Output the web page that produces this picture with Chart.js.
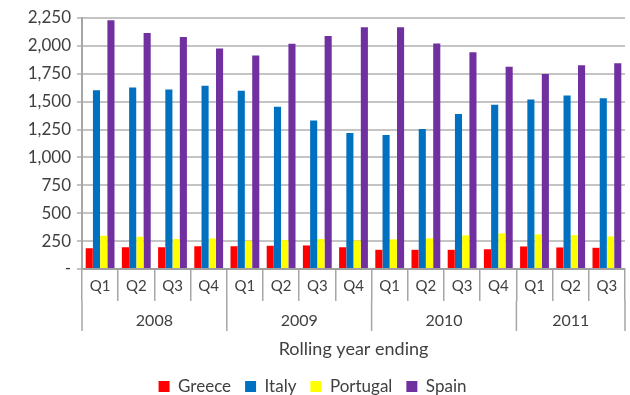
<!DOCTYPE html>
<html>
<head>
<meta charset="utf-8">
<script src="https://cdn.jsdelivr.net/npm/chart.js@4/dist/chart.umd.min.js"></script>
<style>
  html, body { margin: 0; padding: 0; background: #fff; }
  #wrap { width: 630px; height: 395px; }
</style>
</head>
<body>
<div id="wrap"><canvas id="chart" width="630" height="395"></canvas></div>
<script>
// quarters, grouped by year
const quarters = ['Q1', 'Q2', 'Q3', 'Q4', 'Q1', 'Q2', 'Q3', 'Q4', 'Q1', 'Q2', 'Q3', 'Q4', 'Q1', 'Q2', 'Q3'];
const years = ['2008', '2009', '2010', '2011'];
const quartersPerYear = [4, 4, 4, 3];

const greece   = [186, 195, 195, 204, 204, 208, 211, 195, 172, 172, 172, 177, 202, 193, 190];
const italy    = [1603, 1627, 1609, 1642, 1597, 1455, 1331, 1220, 1202, 1256, 1389, 1473, 1519, 1555, 1531];
const portugal = [298, 289, 268, 274, 253, 259, 268, 256, 265, 274, 301, 319, 310, 304, 292];
const spain    = [2230, 2115, 2079, 1976, 1913, 2019, 2088, 2166, 2166, 2022, 1944, 1813, 1747, 1826, 1844];

const FONT = 'Lato, "DejaVu Sans", sans-serif';
const TEXT = '#404040';

// draws the year row and the long dividers under the quarter labels
const yearRow = {
  id: 'yearRow',
  afterLayout(chart) {
    // push the legend a bit lower, like the original
    const lg = chart.legend;
    if (lg) { lg.top += 10; lg.bottom += 10; }
  },
  afterDraw(chart) {
    const ctx = chart.ctx;
    const x = chart.scales.x;
    const step = x.width / quarters.length;
    const top = x.top + 32;
    const bottom = x.top + 62;
    ctx.save();
    ctx.strokeStyle = '#A6A6A6';
    ctx.lineWidth = 1.5;
    ctx.fillStyle = TEXT;
    ctx.font = '16px ' + FONT;
    ctx.textAlign = 'center';
    ctx.textBaseline = 'middle';
    let idx = 0;
    for (let i = 0; i <= years.length; i++) {
      const px = x.left + idx * step;
      ctx.beginPath();
      ctx.moveTo(px, top);
      ctx.lineTo(px, bottom);
      ctx.stroke();
      if (i < years.length) {
        const w = quartersPerYear[i] * step;
        ctx.fillText(years[i], px + w / 2, x.top + 52);
        idx += quartersPerYear[i];
      }
    }
    ctx.font = '18px ' + FONT;
    ctx.fillText('Rolling year ending', x.left + x.width / 2, x.top + 80);
    ctx.restore();
  }
};

new Chart(document.getElementById('chart'), {
  type: 'bar',
  data: {
    labels: quarters,
    datasets: [
      { label: 'Greece', data: greece, backgroundColor: '#FF0000' },
      { label: 'Italy', data: italy, backgroundColor: '#0070C0' },
      { label: 'Portugal', data: portugal, backgroundColor: '#FFFF00' },
      { label: 'Spain', data: spain, backgroundColor: '#7030A0' }
    ]
  },
  options: {
    responsive: false,
    animation: false,
    layout: { padding: { top: 18, right: 5, left: 0, bottom: 0 } },
    datasets: { bar: { categoryPercentage: 0.8, barPercentage: 0.98 } },
    plugins: {
      legend: {
        position: 'bottom',
        labels: {
          font: { family: FONT, size: 17 },
          color: TEXT,
          boxWidth: 11,
          boxHeight: 11,
          padding: 14
        }
      },
      tooltip: { enabled: false }
    },
    scales: {
      x: {
        grid: {
          offset: true,
          drawOnChartArea: false,
          tickLength: 32,
          color: '#A6A6A6',
          lineWidth: 1.5
        },
        border: { color: '#A0A0A0', width: 2 },
        ticks: {
          padding: -24,
          color: TEXT,
          font: { family: FONT, size: 15 },
          maxRotation: 0,
          autoSkip: false
        },
        afterFit: s => { s.height = 85; }
      },
      y: {
        min: 0,
        max: 2250,
        ticks: {
          stepSize: 250,
          color: TEXT,
          font: { family: FONT, size: 17 },
          padding: 6,
          callback: v => v === 0 ? '-' : v.toLocaleString('en-US')
        },
        grid: {
          color: '#C4C4C4',
          lineWidth: 2,
          tickLength: 5
        },
        border: { color: '#A6A6A6', width: 2 },
        afterFit: s => { s.width = 82; }
      }
    }
  },
  plugins: [yearRow]
});
</script>
</body>
</html>
